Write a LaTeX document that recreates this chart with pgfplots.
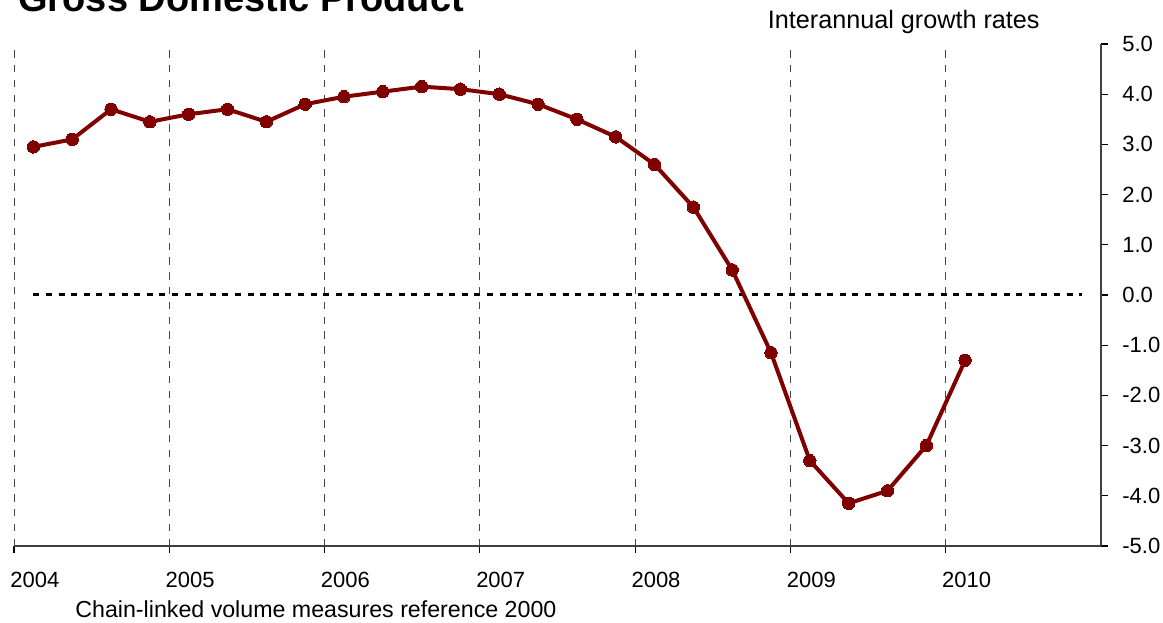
\documentclass[border=0pt]{standalone}
\usepackage{fontspec}
\setmainfont{Liberation Sans}
\usepackage{pgfplots}
\pgfplotsset{compat=1.18}
\definecolor{gdp}{RGB}{128,0,0}
\definecolor{gridgray}{RGB}{70,70,70}

\begin{document}
\begin{tikzpicture}
\useasboundingbox (0,0) rectangle (581.5pt,311pt);
\begin{axis}[
  at={(7pt,38pt)}, anchor=south west,
  scale only axis, width=543.5pt, height=251pt,
  xmin=2004, xmax=2011, ymin=-5, ymax=5,
  axis x line=bottom, axis y line=right,
  axis line style={-, line width=0.6pt, color=black!75},
  xtick={2004,2005,2006,2007,2008,2009,2010},
  xticklabels={2004,2005,2006,2007,2008,2009,2010},
  ytick={-5,-4,-3,-2,-1,0,1,2,3,4,5},
  yticklabels={-5.0,-4.0,-3.0,-2.0,-1.0,0.0,1.0,2.0,3.0,4.0,5.0},
  tick align=outside, major tick length=3.5pt,
  tick style={black, line width=0.6pt},
  xmajorgrids,
  major x grid style={gridgray, line width=0.5pt, dash pattern=on 3.7pt off 3.7pt},
  xticklabel style={anchor=base west, inner sep=0pt, xshift=-2pt, yshift=-17pt, font=\fontsize{11}{12}\selectfont},
  yticklabel style={anchor=west, inner sep=0pt, xshift=7pt, font=\fontsize{11}{12}\selectfont},
  clip=false,
]
\addplot[black, line width=1.5pt, dash pattern=on 3pt off 3.3pt, forget plot] coordinates {(2004.125,0) (2010.875,0)};
\addplot[gdp, line width=2pt, mark=*, mark size=3.1pt, mark options={solid, fill=gdp, draw=gdp, line width=0pt}] coordinates {
(2004.125,2.95) (2004.375,3.1) (2004.625,3.7) (2004.875,3.45)
(2005.125,3.6) (2005.375,3.7) (2005.625,3.45) (2005.875,3.8)
(2006.125,3.95) (2006.375,4.05) (2006.625,4.15) (2006.875,4.1)
(2007.125,4.0) (2007.375,3.8) (2007.625,3.5) (2007.875,3.15)
(2008.125,2.6) (2008.375,1.75) (2008.625,0.5) (2008.875,-1.15)
(2009.125,-3.3) (2009.375,-4.15) (2009.625,-3.9) (2009.875,-3.0)
(2010.125,-1.3)
};
\end{axis}
\node[anchor=base west, inner sep=0pt, font=\fontsize{19}{22}\selectfont\bfseries] at (9pt,305.2pt) {Gross Domestic Product};
\node[anchor=base east, inner sep=0pt, font=\fontsize{12.6}{14}\selectfont] at (520pt,296.5pt) {Interannual growth rates};
\node[anchor=base west, inner sep=0pt, font=\fontsize{11.6}{13}\selectfont] at (37.5pt,2.5pt) {Chain-linked volume measures reference 2000};
\end{tikzpicture}
\end{document}
